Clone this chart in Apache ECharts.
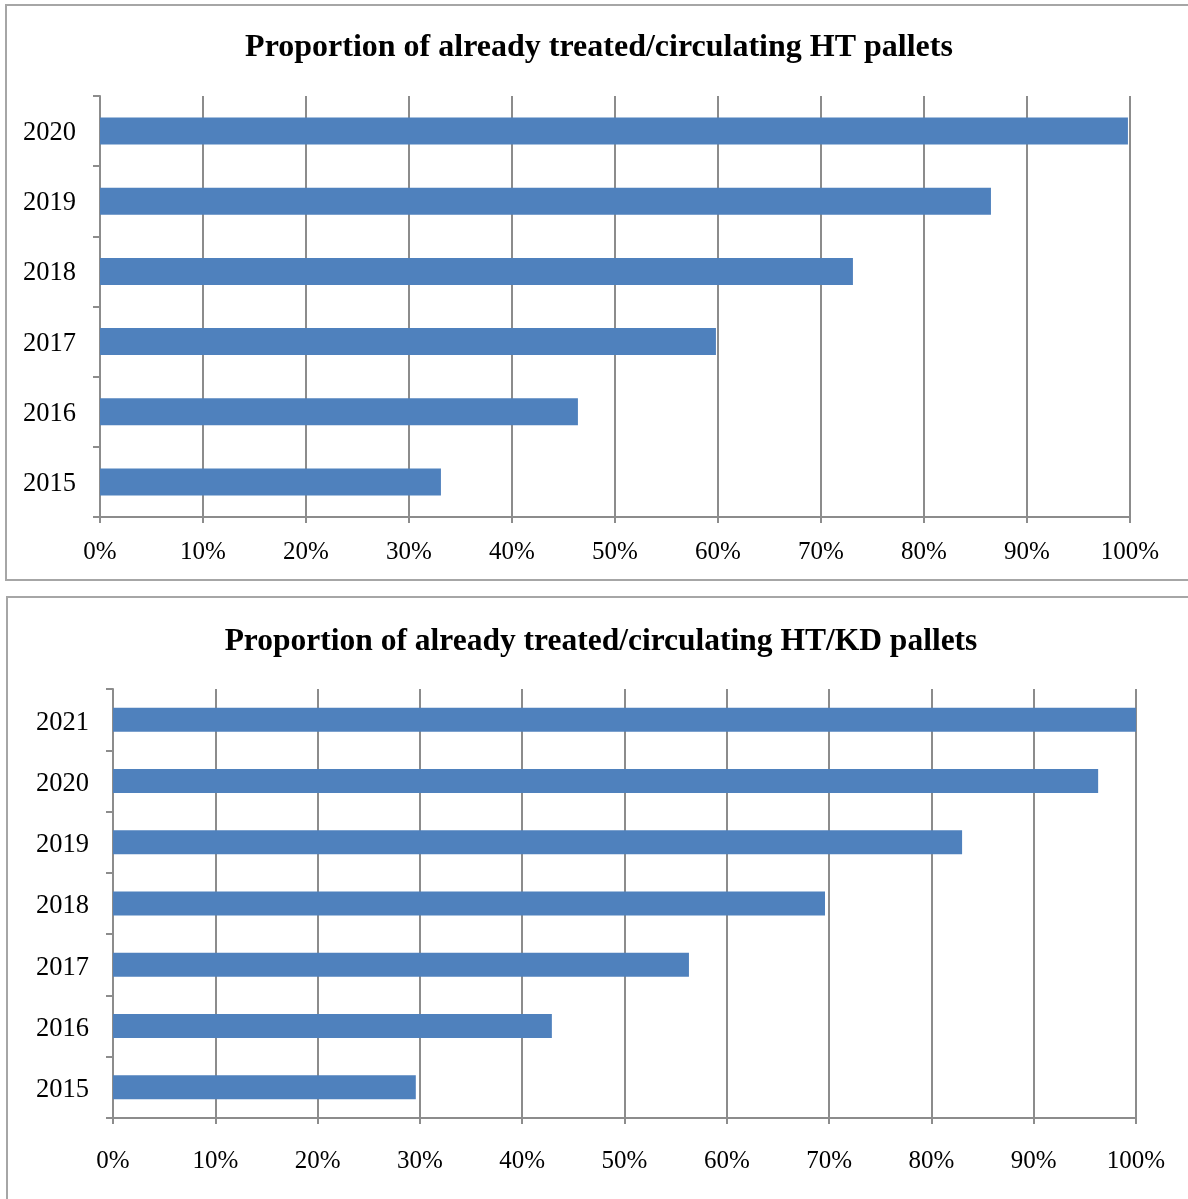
<!DOCTYPE html>
<html>
<head>
<meta charset="utf-8">
<script src="https://cdn.jsdelivr.net/npm/echarts@6/dist/echarts.min.js"></script>
<style>
  html, body { margin: 0; padding: 0; background: #fff; overflow: hidden; }
  .box { position: absolute; border: 2px solid #a6a6a6; box-sizing: border-box; }
  #box1 { left: 5px; top: 4px; width: 1200px; height: 577px; }
  #box2 { left: 6px; top: 596px; width: 1200px; height: 620px; }
  #chart { position: absolute; left: 0; top: 0; width: 1188px; height: 1199px; }
</style>
</head>
<body>
<div class="box" id="box1"></div>
<div class="box" id="box2"></div>
<div id="chart"></div>
<script>
  // top chart: HT pallets
  var years1 = ['2015', '2016', '2017', '2018', '2019', '2020'];
  var values1 = [33.1, 46.4, 59.8, 73.1, 86.5, 99.8];
  // bottom chart: HT/KD pallets
  var years2 = ['2015', '2016', '2017', '2018', '2019', '2020', '2021'];
  var values2 = [29.6, 42.9, 56.3, 69.6, 83.0, 96.3, 100];
  var title1 = 'Proportion of already treated/circulating HT pallets';
  var title2 = 'Proportion of already treated/circulating HT/KD pallets';

  var gray = '#8c8c8c';
  var font = '"Liberation Serif", "Times New Roman", serif';

  function xAxisFor(idx, margin) {
    return {
      type: 'value',
      gridIndex: idx,
      min: 0,
      max: 100,
      interval: 10,
      axisLine: { show: true, lineStyle: { color: gray, width: 2 } },
      axisTick: { show: true, length: 6, lineStyle: { color: gray, width: 2 } },
      splitLine: { show: true, lineStyle: { color: gray, width: 2 } },
      axisLabel: {
        margin: margin,
        color: '#000',
        fontFamily: font,
        fontSize: 25,
        formatter: '{value}%'
      }
    };
  }

  function yAxisFor(idx, cats, padTop) {
    return {
      type: 'category',
      gridIndex: idx,
      data: cats,
      axisLine: { show: true, lineStyle: { color: gray, width: 2 } },
      axisTick: { show: true, length: 7, lineStyle: { color: gray, width: 2 } },
      splitLine: { show: false },
      axisLabel: {
        margin: 24,
        formatter: '{y|{value}}',
        rich: {
          y: {
            color: '#000',
            fontFamily: font,
            fontSize: 26.5,
            padding: [padTop, 0, 0, 0]
          }
        }
      }
    };
  }

  var chart = echarts.init(document.getElementById('chart'));
  chart.setOption({
    animation: false,
    backgroundColor: 'transparent',
    title: [
      {
        text: title1,
        left: 594,
        top: 27,
        textAlign: 'center',
        textStyle: { fontFamily: font, fontSize: 32, fontWeight: 'bold', color: '#000' }
      },
      {
        text: title2,
        left: 596,
        top: 621,
        textAlign: 'center',
        textStyle: { fontFamily: font, fontSize: 31.5, fontWeight: 'bold', color: '#000' }
      }
    ],
    grid: [
      { left: 100, top: 96, width: 1030, height: 421 },
      { left: 113, top: 689, width: 1023, height: 429 }
    ],
    xAxis: [xAxisFor(0, 23), xAxisFor(1, 31)],
    yAxis: [yAxisFor(0, years1, 4), yAxisFor(1, years2, 6)],
    series: [
      {
        type: 'bar',
        xAxisIndex: 0,
        yAxisIndex: 0,
        data: values1,
        barWidth: 27,
        itemStyle: { color: '#4f81bd' }
      },
      {
        type: 'bar',
        xAxisIndex: 1,
        yAxisIndex: 1,
        data: values2,
        barWidth: 24,
        itemStyle: { color: '#4f81bd' }
      }
    ]
  });
</script>
</body>
</html>
